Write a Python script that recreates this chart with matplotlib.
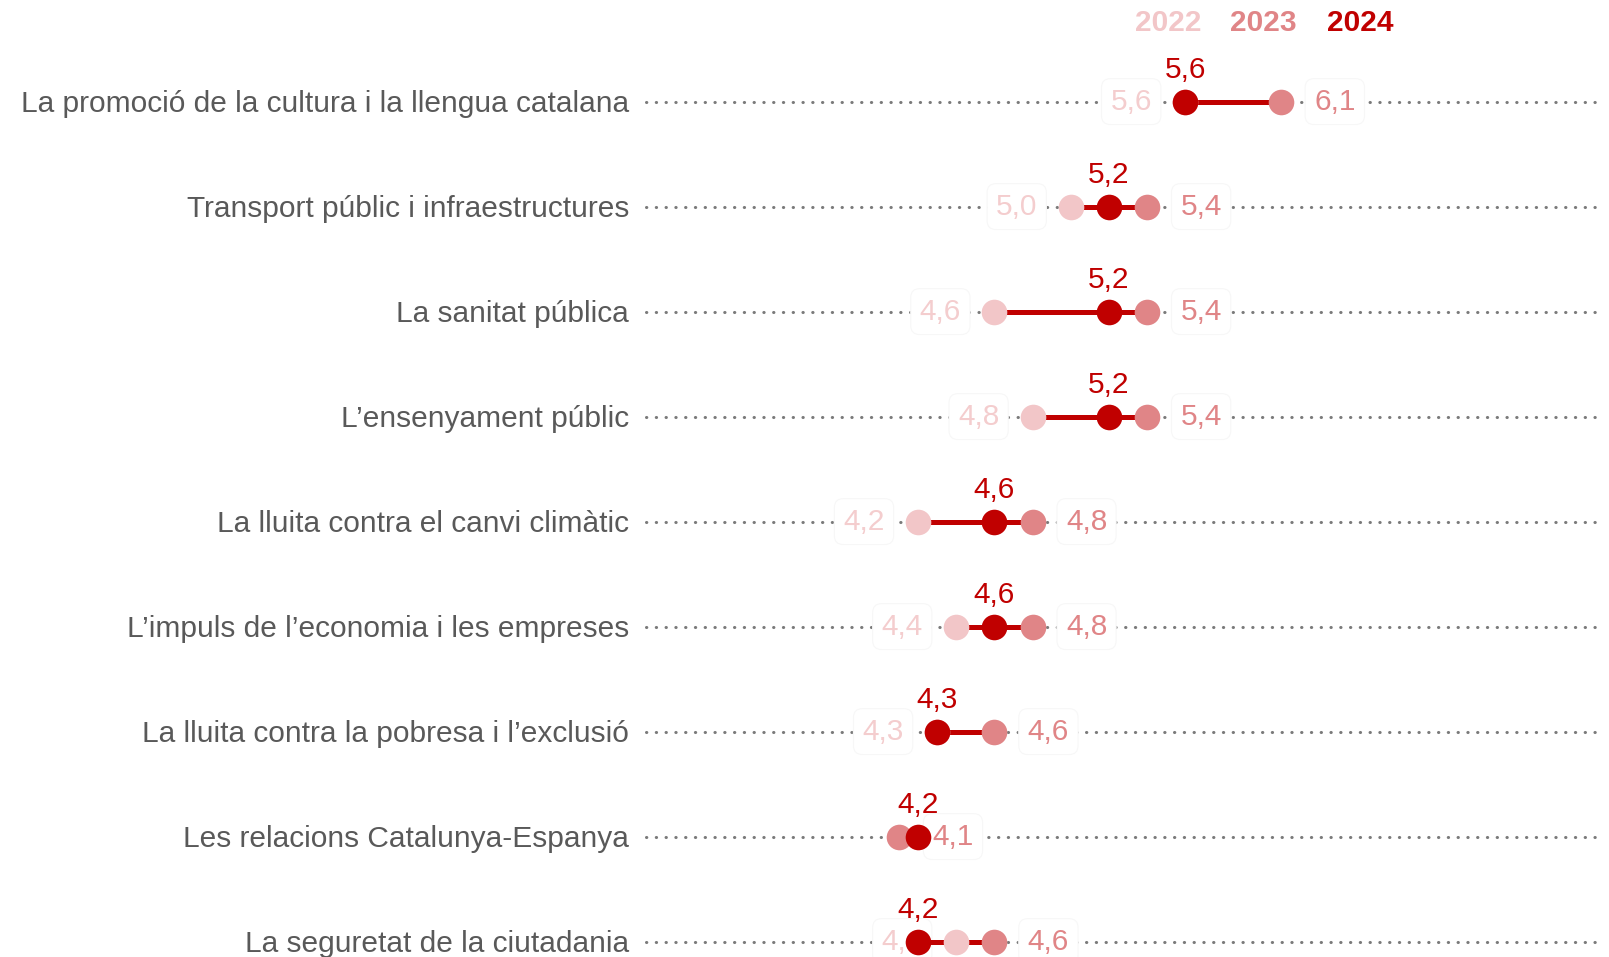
import matplotlib
matplotlib.use("Agg")
from matplotlib import pyplot as plt

plt.rcParams['font.family'] = ['Liberation Sans', 'DejaVu Sans']

categories = [
    "La promoció de la cultura i la llengua catalana",
    "Transport públic i infraestructures",
    "La sanitat pública",
    "L’ensenyament públic",
    "La lluita contra el canvi climàtic",
    "L’impuls de l’economia i les empreses",
    "La lluita contra la pobresa i l’exclusió",
    "Les relacions Catalunya-Espanya",
    "La seguretat de la ciutadania",
]
v2022 = [5.6, 5.0, 4.6, 4.8, 4.2, 4.4, 4.3, None, 4.4]
v2023 = [6.1, 5.4, 5.4, 5.4, 4.8, 4.8, 4.6, 4.1, 4.6]
v2024 = [5.6, 5.2, 5.2, 5.2, 4.6, 4.6, 4.3, 4.2, 4.2]

years = ["2022", "2023", "2024"]
c22, c23, c24 = "#f2c6c8", "#e08587", "#c00000"
t22, t23 = "#f4cdce", "#e08587"

def fmt(v):
    return f"{v:.1f}".replace(".", ",")

fig = plt.figure(figsize=(16.09, 9.57), dpi=100)
ax = fig.add_axes([0, 0, 1, 1])
ax.set_xlim(-0.609, -0.609 + 1609 / 190.9)
ax.set_ylim((957 - 101.6) / 105.0, -101.6 / 105.0)
ax.axis("off")

fs = 21.5
box = dict(boxstyle="round,pad=0.3", fc="white", ec="#f7f7f7", lw=0.8)

for i, cat in enumerate(categories):
    ax.text(2.686, i + 0.02, cat, ha="right", va="center", fontsize=fs, color="#595959")
    ax.plot([2.775, 7.76], [i, i], color="#7a7a7a", lw=2.2,
            linestyle=(0, (0.1, 3.1)), dash_capstyle="round", zorder=1)
    vals = [v for v in (v2022[i], v2023[i], v2024[i]) if v is not None]
    ax.plot([min(vals), max(vals)], [i, i], color=c24, lw=3.6, zorder=3,
            solid_capstyle="butt")
    if v2022[i] is not None:
        ax.annotate(fmt(v2022[i]), (v2022[i], i), xytext=(-24, 0),
                    textcoords="offset points", ha="right", va="center",
                    fontsize=fs, color=t22, bbox=box, zorder=2)
        ax.scatter([v2022[i]], [i], s=340, color=c22, zorder=4, lw=0)
    ax.annotate(fmt(v2023[i]), (v2023[i], i), xytext=(24, 0),
                textcoords="offset points", ha="left", va="center",
                fontsize=fs, color=t23, bbox=box, zorder=2)
    ax.scatter([v2023[i]], [i], s=340, color=c23, zorder=4, lw=0)
    ax.scatter([v2024[i]], [i], s=340, color=c24, zorder=5, lw=0)
    ax.annotate(fmt(v2024[i]), (v2024[i], i), xytext=(0, 23),
                textcoords="offset points", ha="center", va="center",
                fontsize=fs, color=c24, zorder=6)

for yr, col, xp in zip(years, [c22, c23, c24], [1168, 1263, 1360]):
    fig.text(xp / 1609, 1 - 23 / 957, yr, ha="center", va="center",
             fontsize=fs, fontweight="bold", color=col)

fig.savefig("out.png", dpi=100)
